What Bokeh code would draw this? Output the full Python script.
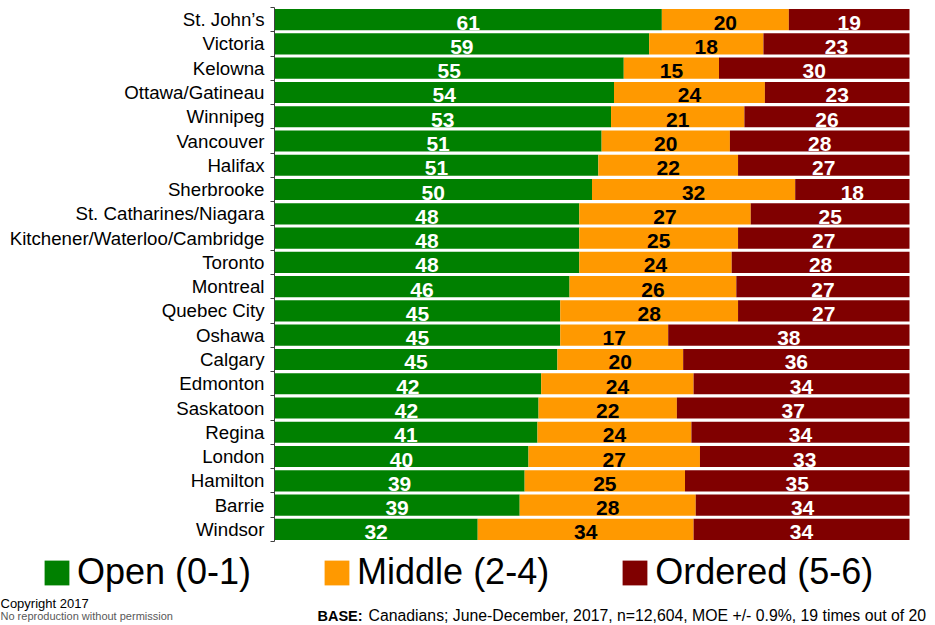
from bokeh.plotting import figure
from bokeh.models import ColumnDataSource, Range1d, FixedTicker, Legend, LegendItem, Label
from bokeh.embed import file_html
from bokeh.resources import INLINE
from bokeh.core.properties import value

cities = ["St. John\u2019s", "Victoria", "Kelowna", "Ottawa/Gatineau", "Winnipeg", "Vancouver",
          "Halifax", "Sherbrooke", "St. Catharines/Niagara", "Kitchener/Waterloo/Cambridge",
          "Toronto", "Montreal", "Quebec City", "Oshawa", "Calgary", "Edmonton", "Saskatoon",
          "Regina", "London", "Hamilton", "Barrie", "Windsor"]
open_vals = [61, 59, 55, 54, 53, 51, 51, 50, 48, 48, 48, 46, 45, 45, 45, 42, 42, 41, 40, 39, 39, 32]
middle_vals = [20, 18, 15, 24, 21, 20, 22, 32, 27, 25, 24, 26, 28, 17, 20, 24, 22, 24, 27, 25, 28, 34]
ordered_vals = [19, 23, 30, 23, 26, 28, 27, 18, 25, 27, 28, 27, 27, 38, 36, 34, 37, 34, 33, 35, 34, 34]
series_names = ["Open (0-1)", "Middle (2-4)", "Ordered (5-6)"]
series_colors = ["#008000", "#FF9900", "#800000"]
label_colors = ["#FFFFFF", "#000000", "#FFFFFF"]
footer_copyright = "Copyright 2017"
footer_noreprod = "No reproduction without permission"
footer_base_bold = "BASE:"
footer_base_text = "Canadians; June-December, 2017, n=12,604, MOE +/- 0.9%, 19 times out of 20"

FONT_NAME = "Liberation Sans"
FONT = value(FONT_NAME)
n = len(cities)
ypos = [n - 1 - i for i in range(n)]
series = [open_vals, middle_vals, ordered_vals]
totals = [sum(v) for v in zip(*series)]

# canvas size and where the bar area sits inside it (pixels from top-left)
W, H = 935, 625
BL, BR, BT, BB = 274, 909, 7, 541
xs = (BR - BL) / 100.0
ys = (BB - BT) / float(n)
x_range = Range1d(-BL / xs, 100 + (W - BR) / xs)
y_range = Range1d(-0.5 - (H - BB) / ys, n - 0.5 + BT / ys)

p = figure(width=W, height=H, x_range=x_range, y_range=y_range,
           output_backend="svg", toolbar_location=None, x_axis_location=None,
           min_border=0)
p.outline_line_color = None
p.xgrid.visible = False
p.ygrid.visible = False

renderers = []
cum = [0.0] * n
for vals, col, lcol in zip(series, series_colors, label_colors):
    left = cum[:]
    right = [c + 100.0 * v / t for c, v, t in zip(cum, vals, totals)]
    mid = [(a + b) / 2 for a, b in zip(left, right)]
    src = ColumnDataSource(dict(y=ypos, left=left, right=right, mid=mid,
                                lab=[str(v) for v in vals]))
    r = p.hbar(y="y", left="left", right="right", height=0.87, source=src,
               fill_color=col, line_color=None)
    renderers.append(r)
    p.text(x="mid", y="y", text="lab", source=src, text_color=lcol, text_font=FONT,
           text_font_style="bold", text_font_size="21px", text_align="center",
           text_baseline="middle", y_offset=3)
    cum = right

ax = p.yaxis[0]
ax.fixed_location = 0
ax.bounds = (-0.5, n - 0.5)
ax.ticker = FixedTicker(ticks=ypos, minor_ticks=[k - 0.5 for k in range(n + 1)])
ax.major_label_overrides = {y: c for y, c in zip(ypos, cities)}
ax.major_tick_line_color = None
ax.major_tick_out = 0
ax.major_tick_in = 0
ax.minor_tick_out = 4
ax.minor_tick_in = 0
ax.minor_tick_line_color = "#404040"
ax.axis_line_color = "#404040"
ax.major_label_standoff = 6
ax.major_label_text_font = FONT_NAME
ax.major_label_text_font_size = "18.7px"
ax.major_label_text_color = "#000000"

# legend below the bars (screen position from the bottom-left corner)
items = [LegendItem(label=name, renderers=[r]) for name, r in zip(series_names, renderers)]
legend = Legend(items=items, orientation="horizontal", location=(41, H - 593),
                glyph_width=31, glyph_height=31, label_text_font=FONT_NAME,
                label_text_font_size="36px", label_text_color="#000000",
                label_standoff=5, spacing=70, padding=0, margin=0,
                border_line_color=None, background_fill_alpha=0)
p.add_layout(legend)


def footer(x, y, text, size, color="#000000", style="normal"):
    p.add_layout(Label(x=x, y=H - y, x_units="screen", y_units="screen", text=text,
                       text_font=FONT_NAME, text_font_size=size, text_color=color,
                       text_font_style=style, text_baseline="alphabetic", text_align="left"))


footer(0, 603, footer_copyright, "13px")
footer(0, 615, footer_noreprod, "11px", color="#595959")
footer(317, 615, footer_base_bold, "14.5px", style="bold")
footer(368, 615, footer_base_text, "15.8px")

open("out.html", "w").write(file_html(p, INLINE))
